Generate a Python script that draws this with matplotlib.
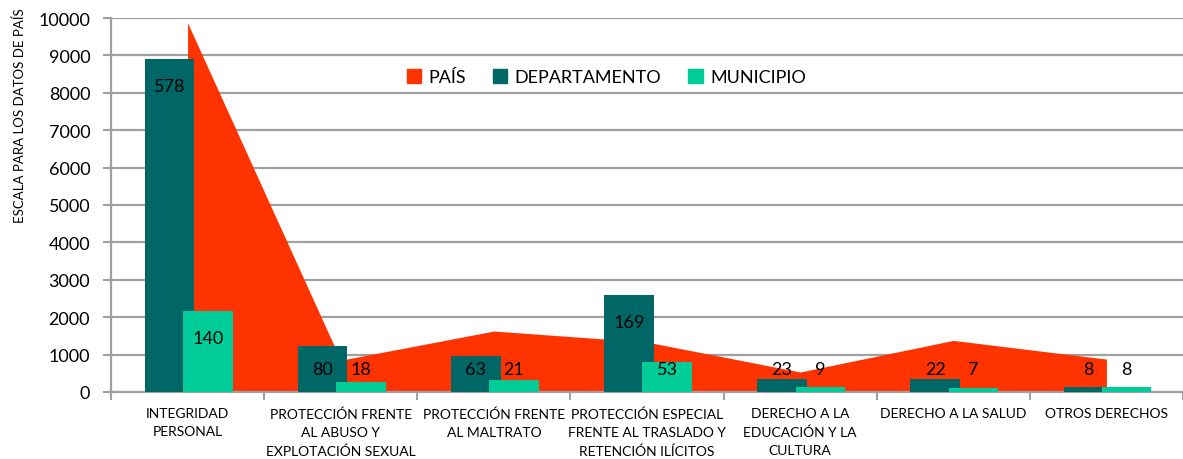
"""
Casos por derecho vulnerado: país (área, eje izquierdo) frente a
departamento y municipio (barras sobre un eje secundario oculto).

Output:
- out.png
"""

from __future__ import annotations

import matplotlib

matplotlib.use("Agg")
import matplotlib.pyplot as plt
from matplotlib.patches import Patch

CATEGORIES = [
    "INTEGRIDAD\nPERSONAL",
    "PROTECCIÓN FRENTE\nAL ABUSO Y\nEXPLOTACIÓN SEXUAL",
    "PROTECCIÓN FRENTE\nAL MALTRATO",
    "PROTECCIÓN ESPECIAL\nFRENTE AL TRASLADO Y\nRETENCIÓN ILÍCITOS",
    "DERECHO A LA\nEDUCACIÓN Y LA\nCULTURA",
    "DERECHO A LA SALUD",
    "OTROS DERECHOS",
]
PAIS = [9870, 850, 1630, 1335, 535, 1380, 880]
DEPARTAMENTO = [578, 80, 63, 169, 23, 22, 8]
MUNICIPIO = [140, 18, 21, 53, 9, 7, 8]

Y_TICKS = [0, 1000, 2000, 3000, 4000, 5000, 6000, 7000, 8000, 9000, 10000]

COLOR_PAIS = "#ff3300"
COLOR_DEPTO = "#006666"
COLOR_MUNI = "#00cc99"
GRID = "#a0a0a0"

plt.rcParams["font.family"] = ["Lato", "DejaVu Sans"]


def main() -> int:
    fig = plt.figure(figsize=(11.83, 4.6), dpi=100)
    ax = fig.add_axes([111 / 1183, 67 / 460, 1072 / 1183, 374 / 460])

    x = list(range(len(CATEGORIES)))

    # país: area chart on the primary axis
    ax.fill_between(x, PAIS, 0, color=COLOR_PAIS, linewidth=0, zorder=2)
    ax.set_xlim(-0.5, -0.5 + 1072 / 154.2)
    ax.set_ylim(0, 10000)
    ax.set_yticks(Y_TICKS)
    ax.set_yticklabels([str(v) for v in Y_TICKS], fontsize=13)
    ax.set_axisbelow(True)
    ax.yaxis.grid(True, color=GRID, linewidth=1.6)

    ax.set_xticks([i - 0.5 for i in range(len(CATEGORIES) + 1)])
    ax.set_xticklabels([])
    ax.set_xticks(x, minor=True)
    ax.set_xticklabels(CATEGORIES, minor=True, fontsize=10, linespacing=1.6)
    ax.tick_params(axis="x", which="major", length=6, color=GRID, width=1.5)
    ax.tick_params(axis="x", which="minor", length=0, pad=11)
    ax.tick_params(axis="y", length=6, color=GRID, width=1.5, pad=9)

    for side in ("top", "right"):
        ax.spines[side].set_visible(False)
    for side in ("left", "bottom"):
        ax.spines[side].set_color(GRID)
        ax.spines[side].set_linewidth(1.6)

    # departamento / municipio: bars on a hidden secondary axis (0-650)
    ax2 = ax.twinx()
    ax2.set_ylim(0, 650)
    ax2.axis("off")
    width = 0.324
    xd = [i - 0.118 for i in x]
    xm = [i + 0.132 for i in x]
    ax2.bar(xd, DEPARTAMENTO, width=width, color=COLOR_DEPTO, zorder=3)
    ax2.bar(xm, MUNICIPIO, width=width, color=COLOR_MUNI, zorder=4)

    for xi, v in zip(xd, DEPARTAMENTO):
        ax2.text(xi, max(v - 47, 40), str(v), ha="center", va="center",
                 fontsize=13, color="black", zorder=5)
    for xi, v in zip(xm, MUNICIPIO):
        ax2.text(xi, max(v - 47, 40), str(v), ha="center", va="center",
                 fontsize=13, color="black", zorder=5)

    handles = [
        Patch(color=COLOR_PAIS, label="PAÍS"),
        Patch(color=COLOR_DEPTO, label="DEPARTAMENTO"),
        Patch(color=COLOR_MUNI, label="MUNICIPIO"),
    ]
    ax.legend(handles=handles, loc="center", bbox_to_anchor=(0.462, 0.842),
              ncol=3, frameon=False, fontsize=13, handlelength=0.8,
              handleheight=0.8, handletextpad=0.4, columnspacing=1.5)

    fig.text(20 / 1183, 1 - 116 / 460, "ESCALA PARA LOS DATOS DE PAÍS",
             rotation=90, ha="center", va="center", fontsize=9.5)

    fig.savefig("out.png", dpi=100)
    plt.close(fig)
    return 0


if __name__ == "__main__":
    raise SystemExit(main())
